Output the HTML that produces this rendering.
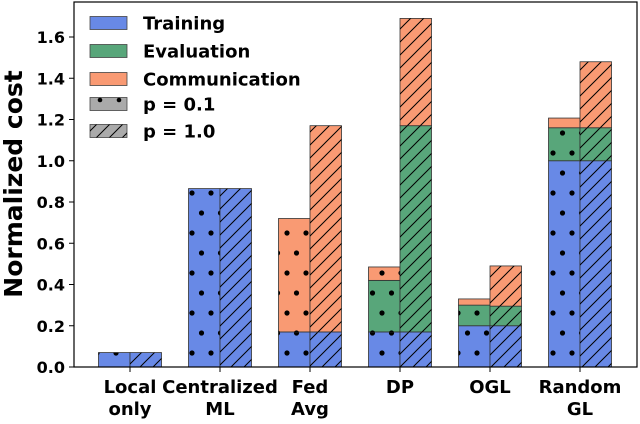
<!DOCTYPE html>
<html><head><meta charset="utf-8"><style>
body{margin:0;background:#fff}
text{font-family:"DejaVu Sans","Liberation Sans",sans-serif;font-weight:bold}
</style></head><body>
<svg id="chart" width="640" height="419" viewBox="0 0 640 419">
<defs>
<pattern id="dots" patternUnits="userSpaceOnUse" width="19" height="40" x="11.5" y="27">
<circle cx="9.5" cy="6" r="2.6" fill="#000"/><circle cx="0" cy="26" r="2.6" fill="#000"/><circle cx="19" cy="26" r="2.6" fill="#000"/>
</pattern>
<pattern id="hatch" patternUnits="userSpaceOnUse" width="13" height="13">
<path d="M-1,14 L14,-1 M-4,4 L4,-4 M9,17 L17,9" stroke="#000" stroke-width="1"/>
</pattern>
</defs>
<g id="bars"></g>
<g id="axes"></g>
<g id="legend"></g>
</svg>
<script>
const categories=["Local\nonly","Centralized\nML","Fed\nAvg","DP","OGL","Random\nGL"];
const trainP01=[0.07,0.865,0.17,0.17,0.20,1.0];
const evalP01=[0,0,0,0.25,0.10,0.16];
const commP01=[0,0,0.55,0.065,0.03,0.047];
const trainP10=[0.07,0.865,0.17,0.17,0.20,1.0];
const evalP10=[0,0,0,1.0,0.095,0.16];
const commP10=[0,0,1.0,0.52,0.195,0.32];
const yTicks=[0,0.2,0.4,0.6,0.8,1.0,1.2,1.4,1.6];
const yTickLabels=["0.0","0.2","0.4","0.6","0.8","1.0","1.2","1.4","1.6"];

const NS="http://www.w3.org/2000/svg";
const X0=74,X1=637,Y0=367,YT=2;
const yS=v=>Y0-v*206.25;
const xC=i=>130+i*90;
const BW=31.5;
const colors=["#6889e6","#58a67a","#f99a73"];
function mk(tag,attrs,parent){const e=document.createElementNS(NS,tag);for(const k in attrs)e.setAttribute(k,attrs[k]);parent.appendChild(e);return e;}
const bars=document.getElementById('bars');
const names=["training","evaluation","communication"];
function stack(i,vals,left,pat,tag){
  let base=0;
  vals.forEach((v,j)=>{
    if(v<=0)return;
    const x=left?xC(i)-BW:xC(i);
    const r=mk('rect',{x:x,y:yS(base+v),width:BW,height:yS(base)-yS(base+v),fill:colors[j],stroke:'#333','stroke-width':0.8},bars);
    
    
    const p=mk('rect',{x:x,y:yS(base+v),width:BW,height:yS(base)-yS(base+v),fill:'url(#'+pat+')',stroke:'none'},bars);
    
    
    base+=v;
  });
}
categories.forEach((c,i)=>{
  stack(i,[trainP01[i],evalP01[i],commP01[i]],true,'dots','p01');
  stack(i,[trainP10[i],evalP10[i],commP10[i]],false,'hatch','p10');
});
const ax=document.getElementById('axes');
const frame=mk('rect',{x:X0,y:YT,width:X1-X0,height:Y0-YT,fill:'none',stroke:'#000','stroke-width':1.2},ax);


yTicks.forEach((t,k)=>{
  mk('line',{x1:X0-5,x2:X0,y1:yS(t),y2:yS(t),stroke:'#000','stroke-width':1},ax);
  const tx=mk('text',{x:X0-9,y:yS(t)+6,'text-anchor':'end','font-size':16},ax);
  tx.textContent=yTickLabels[k];
  
  
});
categories.forEach((c,i)=>{
  mk('line',{x1:xC(i),x2:xC(i),y1:Y0,y2:Y0+5,stroke:'#000','stroke-width':1},ax);
  c.split("\n").forEach((ln,k)=>{
    const tx=mk('text',{x:xC(i),y:393+k*22,'text-anchor':'middle','font-size':18},ax);
    tx.textContent=ln;
    
    
  });
});
const yl=mk('text',{x:0,y:0,transform:'translate(22,184) rotate(-90)','text-anchor':'middle','font-size':25},ax);
yl.textContent="Normalized cost";


const lg=document.getElementById('legend');
const items=[["Training",colors[0],null,23],["Evaluation",colors[1],null,51],["Communication",colors[2],null,79],["p = 0.1","#aaaaaa","dots",104],["p = 1.0","#aaaaaa","hatch",131]];
items.forEach(it=>{
  const r=mk('rect',{x:90,y:it[3]-6.5,width:37,height:13,fill:it[1],stroke:'#444','stroke-width':0.8},lg);
  
  
  if(it[2]==='hatch'){mk('rect',{x:90,y:it[3]-6.5,width:37,height:13,fill:'url(#hatch)'},lg);}
  if(it[2]==='dots'){mk('circle',{cx:100,cy:it[3]-4,r:2.3,fill:'#000'},lg);mk('circle',{cx:119,cy:it[3]-4,r:2.3,fill:'#000'},lg);}
  const t=mk('text',{x:143,y:it[3]+6.5,'font-size':18},lg);
  t.textContent=it[0];
  
  
});
</script>
</body></html>
